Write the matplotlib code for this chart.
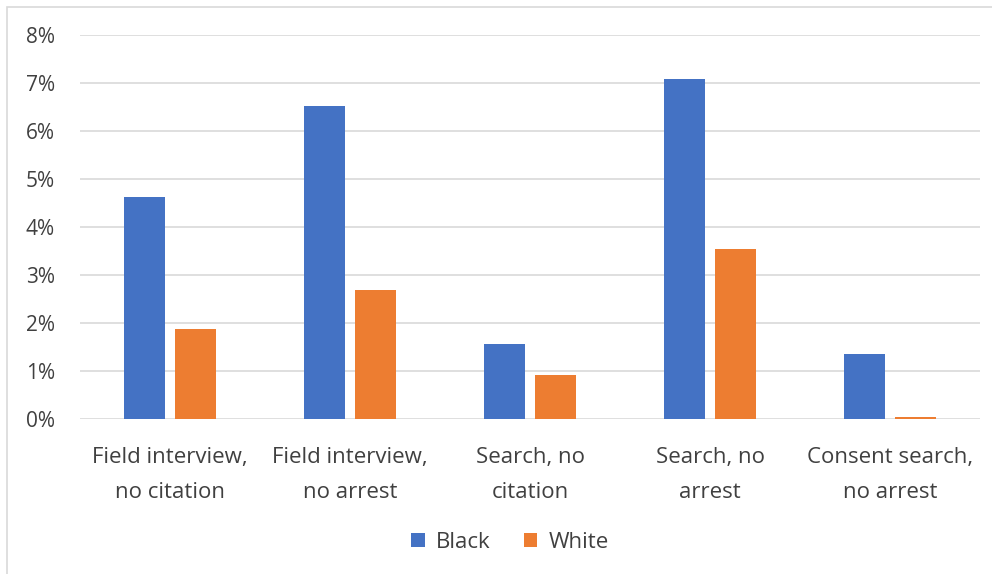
import numpy as np
import matplotlib.pyplot as plt
from matplotlib.patches import Rectangle
from matplotlib.ticker import FuncFormatter

categories = ["Field interview,\nno citation", "Field interview,\nno arrest",
              "Search, no\ncitation", "Search, no\narrest", "Consent search,\nno arrest"]
black = [4.63, 6.53, 1.56, 7.09, 1.35]
white = [1.89, 2.70, 0.92, 3.55, 0.04]

plt.rcParams['font.family'] = ['Open Sans', 'DejaVu Sans']
txt = "#404040"

fig = plt.figure(figsize=(9.92, 5.74), dpi=100)
ax = fig.add_axes([80/992, 1 - 419.3/574, 900/992, 384.3/574])

x = np.arange(len(categories))
w = 0.227
ax.bar(x - 0.141, black, w, color="#4472C4", label="Black", zorder=3)
ax.bar(x + 0.141, white, w, color="#ED7D31", label="White", zorder=3)

ax.set_xlim(-0.5, len(categories) - 0.5)
ax.set_ylim(0, 8)
ax.set_yticks(range(0, 9))
ax.yaxis.set_major_formatter(FuncFormatter(lambda v, p: f"{int(v)}%"))
ax.grid(axis="y", color="#d9d9d9", linewidth=1.2, zorder=0)
for s in ax.spines.values():
    s.set_visible(False)
ax.tick_params(axis="y", length=0, pad=18, labelsize=15, labelcolor=txt)
ax.tick_params(axis="x", length=0, pad=20, labelsize=16, labelcolor=txt)
ax.set_xticks(x)
ax.set_xticklabels(categories, linespacing=1.85)

ax.legend(loc="center", bbox_to_anchor=(510/992, 1 - 542/574), bbox_transform=fig.transFigure,
          ncol=2, frameon=False, fontsize=16, handlelength=0.6, handleheight=0.6,
          handletextpad=0.5, columnspacing=1.5, labelcolor=txt)

# outer chart border (only top and left edges fall inside the image)
fig.patches.append(Rectangle((7/992, -0.1), 1.1, 1.1 - 7/574, transform=fig.transFigure,
                             fill=False, edgecolor="#d9d9d9", linewidth=1.2))

fig.savefig("out.png", dpi=100)
